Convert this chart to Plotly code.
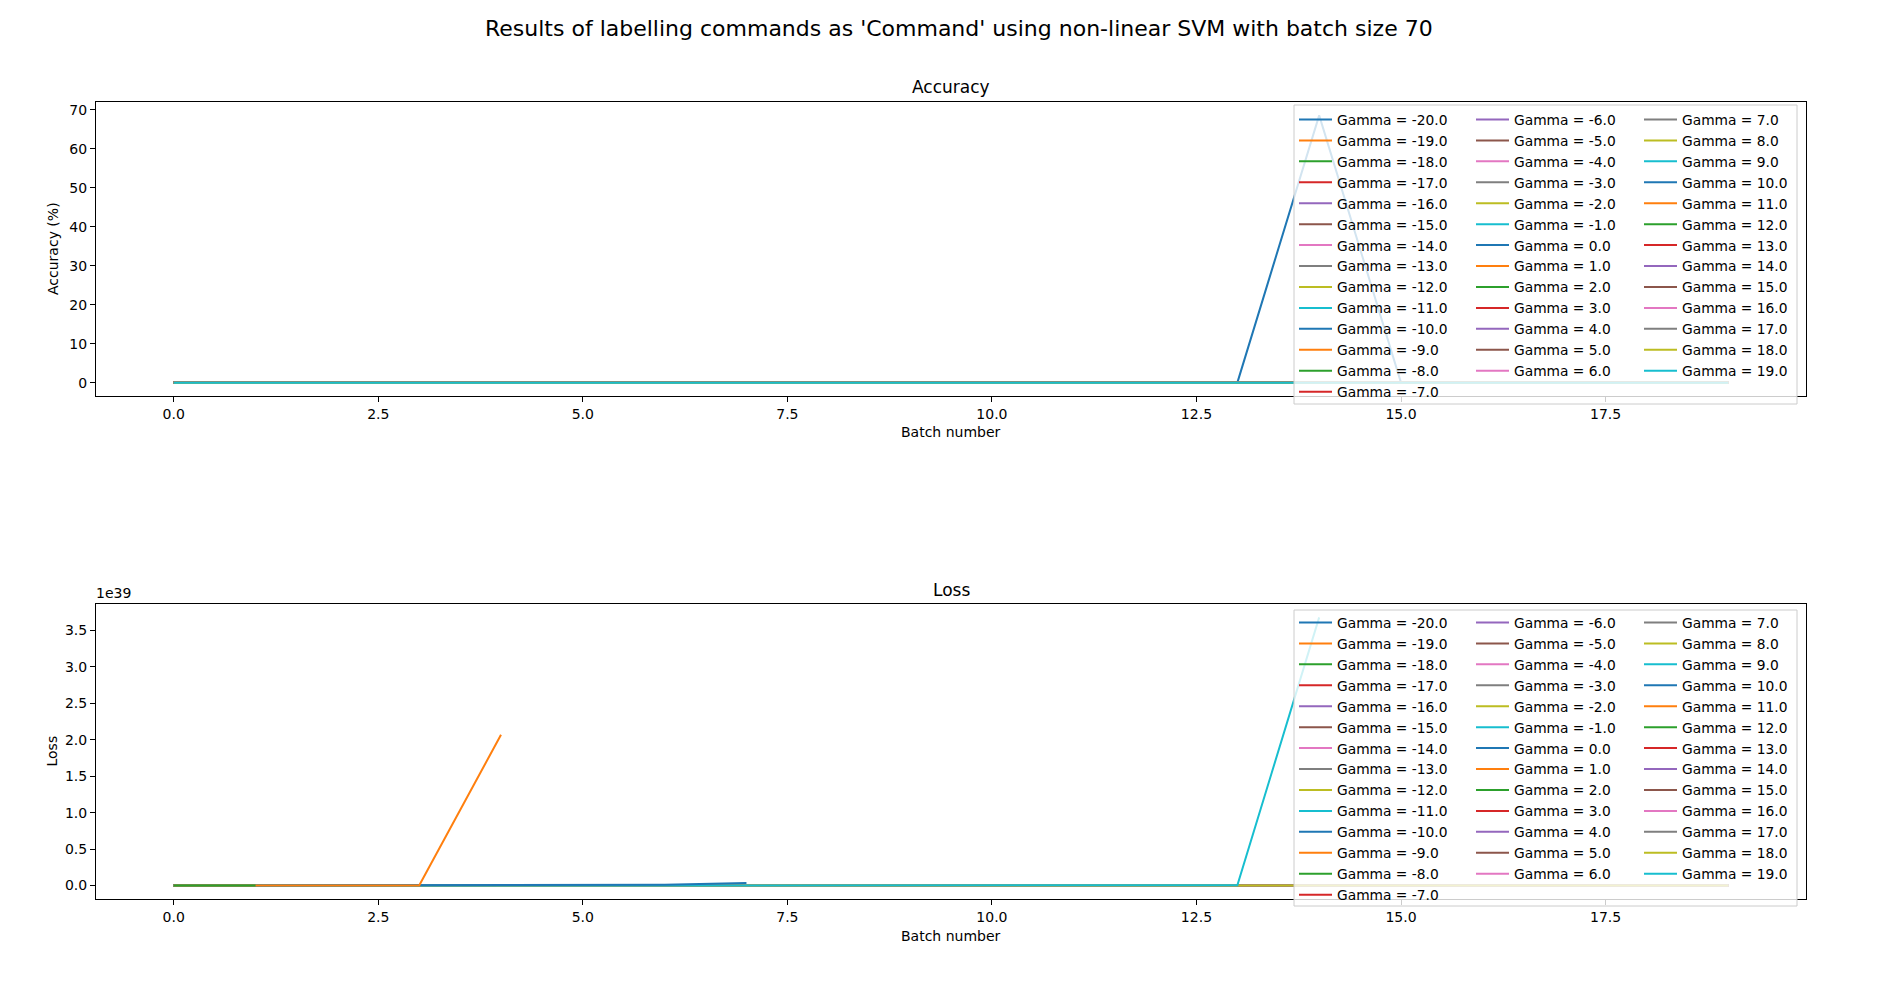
import plotly.graph_objects as go

# ---- data ----
BATCHES = [0, 1, 2, 3, 4, 5, 6, 7, 8, 9, 10, 11, 12, 13, 14, 15, 16, 17, 18, 19]
GAMMAS = [-20.0, -19.0, -18.0, -17.0, -16.0, -15.0, -14.0, -13.0, -12.0, -11.0,
          -10.0, -9.0, -8.0, -7.0, -6.0, -5.0, -4.0, -3.0, -2.0, -1.0,
          0.0, 1.0, 2.0, 3.0, 4.0, 5.0, 6.0, 7.0, 8.0, 9.0,
          10.0, 11.0, 12.0, 13.0, 14.0, 15.0, 16.0, 17.0, 18.0, 19.0]

# accuracy (%) per batch
acc_flat = [0.0, 0.0, 0.0, 0.0, 0.0, 0.0, 0.0, 0.0, 0.0, 0.0,
            0.0, 0.0, 0.0, 0.0, 0.0, 0.0, 0.0, 0.0, 0.0, 0.0]
acc_gamma_10 = [0.0, 0.0, 0.0, 0.0, 0.0, 0.0, 0.0, 0.0, 0.0, 0.0,
                0.0, 0.0, 0.0, 0.0, 68.57, 0.0, 0.0, 0.0, 0.0, 0.0]

# loss per batch (series stop where the run blew up)
loss_flat = [0.0, 0.0, 0.0, 0.0, 0.0, 0.0, 0.0, 0.0, 0.0, 0.0,
             0.0, 0.0, 0.0, 0.0, 0.0, 0.0, 0.0, 0.0, 0.0, 0.0]
loss_gamma_m20 = [0.0, 0.0, 0.0, 0.0, 0.002e39, 0.004e39, 0.01e39, 0.035e39]
loss_gamma_m19 = [0.0, 0.0, 0.0, 0.0, 2.07e39]
loss_gamma_m18 = [0.0, 0.0]
loss_gamma_19 = [0.0, 0.0, 0.0, 0.0, 0.0, 0.0, 0.0, 0.0, 0.0, 0.0,
                 0.0, 0.0, 0.0, 0.005e39, 3.68e39]

LOSS_SCALE = 1e39

acc_special = {10.0: acc_gamma_10}
loss_special = {-20.0: loss_gamma_m20, -19.0: loss_gamma_m19,
                -18.0: loss_gamma_m18, 19.0: loss_gamma_19}

TAB10 = ["#1f77b4", "#ff7f0e", "#2ca02c", "#d62728", "#9467bd",
         "#8c564b", "#e377c2", "#7f7f7f", "#bcbd22", "#17becf"]

FONT = "DejaVu Sans"
W, H = 1900, 1000
L, R, T, B = 88, 1798, 94, 891   # plot area in px
TOP_AX = (94, 388)
BOT_AX = (596, 891)


def px_x(x):
    return (x - L) / (R - L)


def px_y(y):
    return (B - y) / (B - T)


def column_of(i):
    if i < 14:
        return 0
    if i < 27:
        return 1
    return 2


fig = go.Figure()

# accuracy traces, natural order
for i, g in enumerate(GAMMAS):
    col = column_of(i)
    fig.add_trace(go.Scatter(
        x=BATCHES, y=acc_special.get(g, acc_flat), mode="lines",
        name="Gamma = %.1f" % g, line=dict(color=TAB10[i % 10], width=2),
        xaxis="x", yaxis="y", legend=["legend", "legend2", "legend3"][col],
        hoverinfo="skip"))

# loss traces: exploding runs drawn last so they sit on top
order = [i for i, g in enumerate(GAMMAS) if g not in loss_special and g not in (17.0, 18.0)]
order += [GAMMAS.index(17.0), GAMMAS.index(18.0), GAMMAS.index(19.0),
          GAMMAS.index(-20.0), GAMMAS.index(-19.0), GAMMAS.index(-18.0)]
for i in order:
    g = GAMMAS[i]
    col = column_of(i)
    vals = loss_special.get(g, loss_flat)
    fig.add_trace(go.Scatter(
        x=BATCHES[:len(vals)], y=[v / LOSS_SCALE for v in vals], mode="lines",
        name="Gamma = %.1f" % g, line=dict(color=TAB10[i % 10], width=2),
        xaxis="x2", yaxis="y2", legend=["legend4", "legend5", "legend6"][col],
        legendrank=i, hoverinfo="skip"))

axis_common = dict(showline=True, mirror=True, linecolor="black", linewidth=1,
                   ticks="outside", ticklen=5, tickwidth=1, tickcolor="black",
                   showgrid=False, zeroline=False,
                   tickfont=dict(family=FONT, size=14, color="black"))

top_dom = [px_y(TOP_AX[1]), px_y(TOP_AX[0])]
bot_dom = [px_y(BOT_AX[1]), px_y(BOT_AX[0])]

fig.update_layout(
    width=W, height=H,
    margin=dict(l=L, r=W - R, t=T, b=H - B, pad=0),
    plot_bgcolor="white", paper_bgcolor="white",
    font=dict(family=FONT, size=14, color="black"),
    xaxis=dict(axis_common, domain=[0, 1], anchor="y", range=[-0.95, 19.95],
               tick0=0, dtick=2.5, tickformat=".1f"),
    yaxis=dict(axis_common, domain=top_dom, anchor="x", range=[-3.43, 72.0],
               tick0=0, dtick=10),
    xaxis2=dict(axis_common, domain=[0, 1], anchor="y2", range=[-0.95, 19.95],
                tick0=0, dtick=2.5, tickformat=".1f"),
    yaxis2=dict(axis_common, domain=bot_dom, anchor="x2", range=[-0.184, 3.864],
                tick0=0, dtick=0.5, tickformat=".1f"),
    showlegend=True,
)

# legends: three columns per subplot, matplotlib-style box drawn as a shape
col_px = [1286, 1463, 1631]
leg_font = dict(family=FONT, size=13.8, color="black")
for k, top_px in ((0, 96), (3, 599)):
    for c in range(3):
        name = "legend" if k + c == 0 else "legend%d" % (k + c + 1)
        fig.update_layout({name: dict(
            x=px_x(col_px[c]), y=px_y(top_px), xanchor="left", yanchor="top",
            orientation="v", bgcolor="rgba(0,0,0,0)", borderwidth=0,
            font=leg_font, itemwidth=33, itemclick=False, itemdoubleclick=False,
            traceorder="normal")})

for y0, y1 in ((97, 396), (602, 898)):
    fig.add_shape(type="rect", xref="paper", yref="paper", layer="above",
                  x0=px_x(1286), x1=px_x(1789), y0=px_y(y1), y1=px_y(y0),
                  line=dict(color="#cccccc", width=1),
                  fillcolor="rgba(255,255,255,0.8)")

labels = [
    ("Results of labelling commands as 'Command' using non-linear SVM with batch size 70",
     951, 21, 22),
    ("Accuracy", (L + R) / 2, 79, 17),
    ("Loss", (L + R) / 2, 582, 17),
    ("Batch number", (L + R) / 2, 424, 14),
    ("Batch number", (L + R) / 2, 928, 14),
]
for text, xp, yp, size in labels:
    fig.add_annotation(text=text, xref="paper", yref="paper",
                       x=px_x(xp), y=px_y(yp), xanchor="center", yanchor="middle",
                       showarrow=False, font=dict(family=FONT, size=size, color="black"))

fig.add_annotation(text="Accuracy (%)", xref="paper", yref="paper",
                   x=px_x(45), y=px_y(sum(TOP_AX) / 2), textangle=-90, showarrow=False,
                   xanchor="center", yanchor="middle",
                   font=dict(family=FONT, size=14, color="black"))
fig.add_annotation(text="Loss", xref="paper", yref="paper",
                   x=px_x(43), y=px_y(sum(BOT_AX) / 2), textangle=-90, showarrow=False,
                   xanchor="center", yanchor="middle",
                   font=dict(family=FONT, size=14, color="black"))
fig.add_annotation(text="1e39", xref="paper", yref="paper",
                   x=px_x(L - 2), y=px_y(BOT_AX[0] - 1), showarrow=False,
                   xanchor="left", yanchor="bottom",
                   font=dict(family=FONT, size=14, color="black"))

fig.write_html("out.html")
